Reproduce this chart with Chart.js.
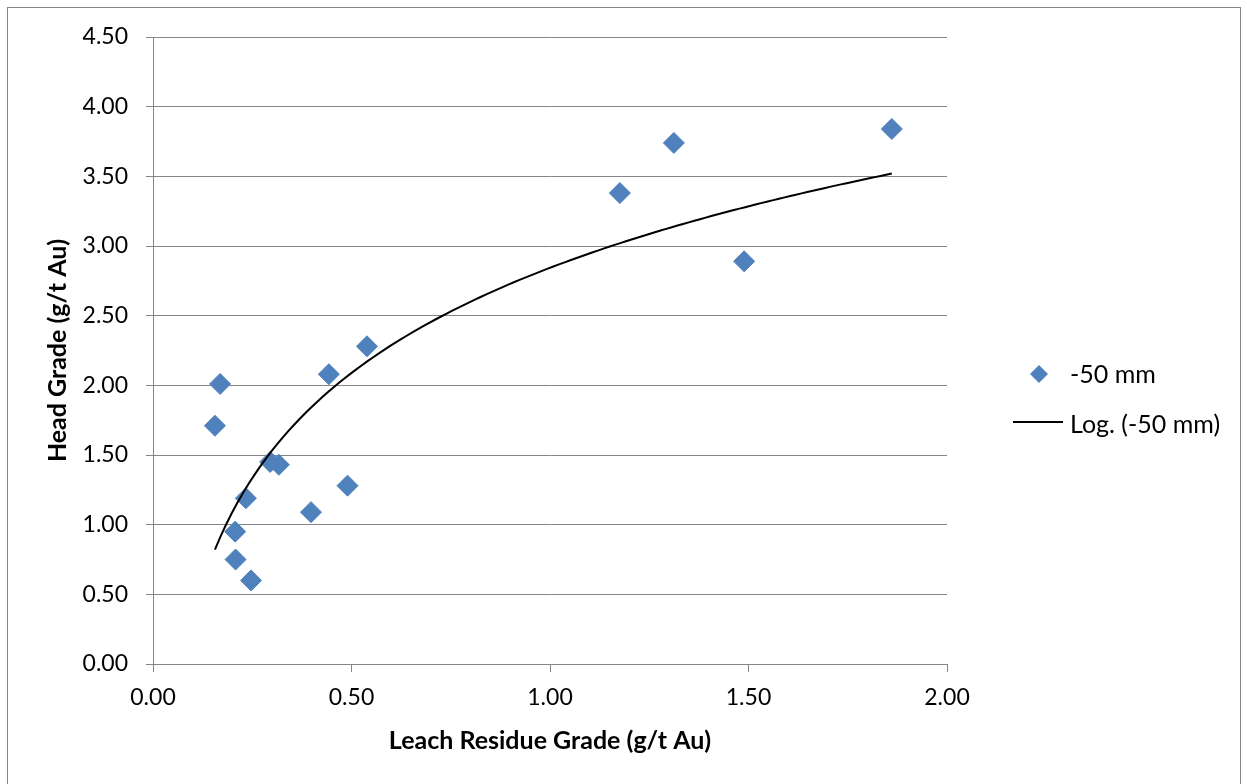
<!DOCTYPE html>
<html>
<head>
<meta charset="utf-8">
<script src="https://cdn.jsdelivr.net/npm/chart.js@4.4.1/dist/chart.umd.min.js"></script>
<style>
  html, body { margin: 0; padding: 0; background: #fff; }
  canvas { display: block; }
</style>
</head>
<body>
<canvas id="chart" width="1247" height="784"></canvas>
<script>
// leach residue grade (x) vs head grade (y), -50 mm fraction
const seriesName = '-50 mm';
const trendName = 'Log. (-50 mm)';
const residue = [0.156, 0.169, 0.207, 0.208, 0.234, 0.247, 0.295, 0.317, 0.398, 0.443, 0.490, 0.539, 1.176, 1.312, 1.489, 1.861];
const head    = [1.71, 2.01, 0.95, 0.75, 1.19, 0.60, 1.45, 1.43, 1.09, 2.08, 1.28, 2.28, 3.38, 3.74, 2.89, 3.84];
const xTicks = [0, 0.5, 1.0, 1.5, 2.0];
const yTicks = [0, 0.5, 1.0, 1.5, 2.0, 2.5, 3.0, 3.5, 4.0, 4.5];
const xTitle = 'Leach Residue Grade (g/t Au)';
const yTitle = 'Head Grade (g/t Au)';

const blue = '#4F81BD';
const gridGrey = '#868686';
const FONT = 'Lato, "Open Sans", sans-serif';

const points = residue.map((x, i) => ({x: x, y: head[i]}));

// excel style log trendline, y = a ln(x) + b, least squares on the points
function logFit(xs, ys) {
  const n = xs.length;
  const lx = xs.map(Math.log);
  const mx = lx.reduce((s, v) => s + v, 0) / n;
  const my = ys.reduce((s, v) => s + v, 0) / n;
  let sxy = 0, sxx = 0;
  for (let i = 0; i < n; i++) {
    sxy += (lx[i] - mx) * (ys[i] - my);
    sxx += (lx[i] - mx) * (lx[i] - mx);
  }
  const a = sxy / sxx;
  return {a: a, b: my - a * mx};
}
const fit = logFit(residue, head);
const xMin = Math.min(...residue), xMax = Math.max(...residue);
const trend = [];
for (let i = 0; i <= 120; i++) {
  const x = xMin + (xMax - xMin) * i / 120;
  trend.push({x: x, y: fit.a * Math.log(x) + fit.b});
}

// outer frame + legend on the right
const framePlugin = {
  id: 'frame',
  beforeDraw(chart) {
    const ctx = chart.ctx;
    ctx.save();
    ctx.fillStyle = '#fff';
    ctx.fillRect(0, 0, chart.width, chart.height);
    ctx.strokeStyle = gridGrey;
    ctx.lineWidth = 1;
    ctx.strokeRect(7.5, 7.5, 1233, 784);
    ctx.restore();
  },
  afterDraw(chart) {
    const ctx = chart.ctx;
    ctx.save();
    ctx.font = '25px ' + FONT;
    ctx.textBaseline = 'middle';
    // marker entry
    const dx = 1039, dy = 374, r = 9;
    ctx.fillStyle = blue;
    ctx.beginPath();
    ctx.moveTo(dx, dy - r);
    ctx.lineTo(dx + r, dy);
    ctx.lineTo(dx, dy + r);
    ctx.lineTo(dx - r, dy);
    ctx.closePath();
    ctx.fill();
    ctx.fillStyle = '#000';
    ctx.fillText(chart.data.datasets[0].label, 1070, 375);
    // trend entry
    ctx.strokeStyle = '#000';
    ctx.lineWidth = 2;
    ctx.beginPath();
    ctx.moveTo(1013, 422);
    ctx.lineTo(1063, 422);
    ctx.stroke();
    ctx.fillText(chart.data.datasets[1].label, 1070, 425);
    ctx.restore();
  }
};

new Chart(document.getElementById('chart'), {
  type: 'scatter',
  data: {
    datasets: [
      {
        label: seriesName,
        data: points,
        pointStyle: 'rectRot',
        pointRadius: 10.5,
        pointHoverRadius: 10.5,
        backgroundColor: blue,
        borderColor: blue,
        borderWidth: 1,
        order: 2
      },
      {
        label: trendName,
        data: trend,
        showLine: true,
        pointRadius: 0,
        borderColor: '#000',
        borderWidth: 2,
        tension: 0,
        fill: false,
        order: 1
      }
    ]
  },
  options: {
    responsive: false,
    animation: false,
    events: [],
    layout: {padding: {left: 0, top: 37, right: 300, bottom: 0}},
    plugins: {
      legend: {display: false},
      tooltip: {enabled: false}
    },
    scales: {
      x: {
        type: 'linear',
        min: 0,
        max: 2,
        afterBuildTicks: (s) => { s.ticks = xTicks.map(v => ({value: v})); },
        afterFit: (s) => { s.height = 120; },
        ticks: {
          padding: 12,
          color: '#000',
          font: {family: FONT, size: 23},
          callback: (v) => Number(v).toFixed(2)
        },
        grid: {drawOnChartArea: false, drawTicks: true, tickLength: 8, color: gridGrey, lineWidth: 1},
        border: {display: true, color: gridGrey, width: 1},
        title: {
          display: true,
          text: xTitle,
          color: '#000',
          font: {family: FONT, size: 25, weight: 'bold'},
          padding: {top: 0, bottom: 28}
        }
      },
      y: {
        type: 'linear',
        min: 0,
        max: 4.5,
        afterBuildTicks: (s) => { s.ticks = yTicks.map(v => ({value: v})); },
        afterFit: (s) => { s.width = 153; },
        ticks: {
          padding: 18,
          color: '#000',
          font: {family: FONT, size: 23},
          callback: (v) => Number(v).toFixed(2)
        },
        grid: {drawOnChartArea: true, drawTicks: true, tickLength: 7, color: gridGrey, lineWidth: 1},
        border: {display: true, color: gridGrey, width: 1},
        title: {
          display: true,
          text: yTitle,
          color: '#000',
          font: {family: FONT, size: 25, weight: 'bold'},
          padding: {top: 43, bottom: 0}
        }
      }
    }
  },
  plugins: [framePlugin]
});
</script>
</body>
</html>
